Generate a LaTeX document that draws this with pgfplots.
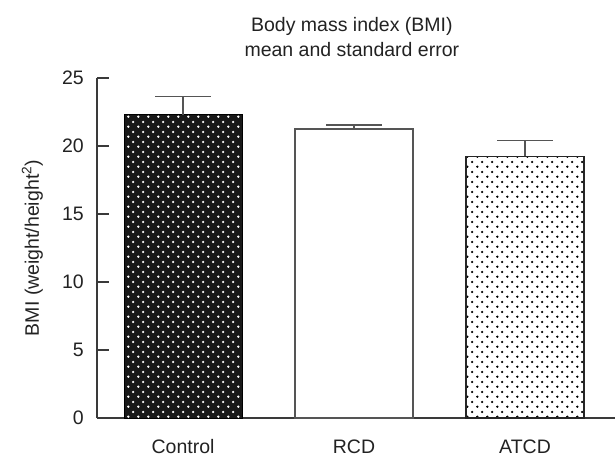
\documentclass[border=0pt]{standalone}
\usepackage{fontspec}
\setmainfont{Liberation Sans}
\usepackage{pgfplots}
\pgfplotsset{compat=1.18}
\usetikzlibrary{patterns.meta}
\tikzdeclarepattern{
  name=bmidots,
  type=uncolored,
  bounding box={(0bp,0bp) and (9.7bp,9.7bp)},
  tile size={(9.7bp,9.7bp)},
  code={
    \pgfpathcircle{\pgfqpoint{2.4bp}{2.4bp}}{1.3bp}
    \pgfpathcircle{\pgfqpoint{7.25bp}{7.25bp}}{1.3bp}
    \pgfusepath{fill}
  }
}
\definecolor{axgray}{HTML}{3A3A3A}
\definecolor{ebgray}{HTML}{555555}
\definecolor{txt}{HTML}{222222}
\newcommand\ff{\fontsize{19.5bp}{23bp}\selectfont}

\begin{document}
\begin{tikzpicture}
\useasboundingbox (-97bp,-39bp) rectangle (519bp,418bp);
\begin{axis}[
  at={(0,0)}, anchor=south west,
  scale only axis, width=518bp, height=340bp,
  xmin=-0.503, xmax=2.526, ymin=0, ymax=25,
  clip=false,
  axis lines*=left,
  axis line style={axgray, line width=1.1bp},
  ytick={0,5,...,25},
  xtick={0,1,2}, xticklabels={Control,RCD,ATCD},
  tick align=inside,
  major tick length=12bp,
  ytick style={axgray, line width=1.1bp},
  xtick style={draw=none},
  /pgf/number format/assume math mode=true,
  yticklabel style={anchor=east, inner sep=0pt, xshift=-13bp, text=txt, font=\ff},
  xticklabel style={anchor=base, inner sep=0pt, yshift=-35.7bp, text=txt, font=\ff},
  ylabel={BMI (weight/height\textsuperscript{2})},
  ylabel style={at={(rel axis cs:-0.112,0.5)}, anchor=base, font=\ff, text=txt, inner sep=0pt},
  error bars/error bar style={ebgray, line width=1.3bp},
  error bars/error mark options={rotate=90, ebgray, line width=1.3bp, mark size=28bp},
]
\addplot[ybar, bar width=118bp, bar shift=0pt, fill=black!90, draw=black, line width=1bp,
  postaction={pattern=bmidots, pattern color=white},
  error bars/.cd, y dir=plus, y explicit]
  coordinates {(0,22.3) +- (0,1.35)};
\addplot[ybar, bar width=118bp, bar shift=0pt, fill=white, draw=ebgray, line width=1.3bp,
  error bars/.cd, y dir=plus, y explicit]
  coordinates {(1,21.25) +- (0,0.3)};
\addplot[ybar, bar width=118bp, bar shift=0pt, fill=white, draw=black!85, line width=1.2bp,
  postaction={pattern=bmidots, pattern color=black},
  error bars/.cd, y dir=plus, y explicit]
  coordinates {(2,19.24) +- (0,1.16)};
\node[anchor=base, font=\ff, text=txt, inner sep=0pt] at (rel axis cs:0.492,1.1353) {Body mass index (BMI)};
\node[anchor=base, font=\ff, text=txt, inner sep=0pt] at (rel axis cs:0.492,1.0618) {mean and standard error};
\end{axis}
\end{tikzpicture}
\end{document}
